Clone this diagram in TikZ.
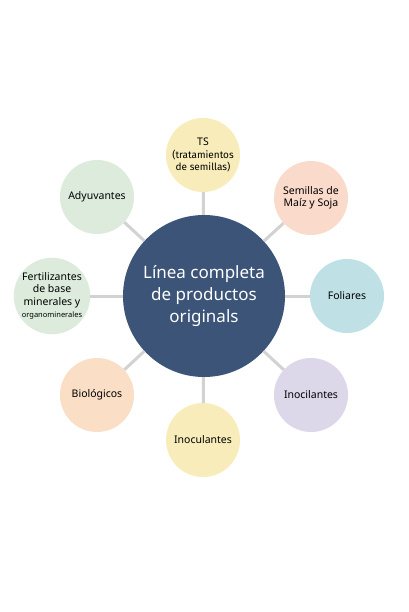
\documentclass[tikz,border=0pt]{standalone}
\usepackage{fontspec}
\setmainfont{Noto Sans}
\newfontfamily\condfont{Fira Sans}
\definecolor{hub}{HTML}{3B5478}
\definecolor{cyellow}{HTML}{F8EDBA}
\definecolor{cpeach}{HTML}{FADBCB}
\definecolor{cteal}{HTML}{BFE1E5}
\definecolor{clav}{HTML}{DCD8EA}
\definecolor{corange}{HTML}{FBDEC6}
\definecolor{cgreen}{HTML}{DCEBDC}
\definecolor{link}{HTML}{D2D2D2}
\begin{document}
\begin{tikzpicture}[x=1pt,y=-1pt,
  hubnode/.style={circle,fill=hub,minimum size=162pt,inner sep=0pt,text=white,align=center,font=\fontsize{17}{22}\selectfont},
  sat/.style={circle,minimum size=74pt,inner sep=0pt,align=center,text=black,font=\fontsize{10.5}{12.5}\selectfont},
  conn/.style={draw=link,line width=3pt}]
\fill[white] (0,0) rectangle (408,612);
\node[hubnode] (c) at (204,296) {Línea completa\\de productos\\originals};
\node[sat,fill=cyellow] (ts) at (203,155) {TS\\{\condfont\fontsize{10}{11.5}\selectfont(tratamientos}\\{\condfont\fontsize{10}{11.5}\selectfont de semillas)}};
\node[sat,fill=cpeach] (sem) at (311,198) {Semillas de\\Maíz y Soja};
\node[sat,fill=cteal] (fol) at (347,296) {Foliares};
\node[sat,fill=clav] (inoci) at (311,395) {Inocilantes};
\node[sat,fill=cyellow] (inocu) at (203,440) {Inoculantes};
\node[sat,fill=corange] (bio) at (97,395) {Biológicos};
\node[sat,fill=cgreen,minimum size=76pt] (fer) at (52,296) {Fertilizantes\\de base\\minerales y\\{\fontsize{7.5}{9}\selectfont organominerales}};
\node[sat,fill=cgreen] (ady) at (97,197) {Adyuvantes};
\foreach \s in {ts,sem,fol,inoci,inocu,bio,fer,ady}{\draw[conn] (c) -- (\s);}
\end{tikzpicture}
\end{document}
